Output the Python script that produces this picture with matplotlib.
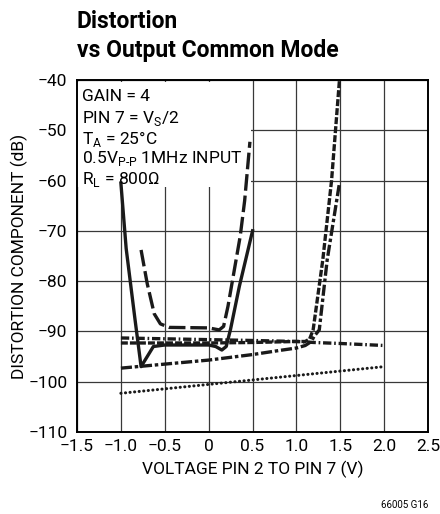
import numpy as np
import matplotlib
matplotlib.use('Agg')
import matplotlib.pyplot as plt
from matplotlib.patches import Rectangle

# Distortion vs output common mode

# solid U curve
x_solid = [-1.0, -0.94, -0.84, -0.77, -0.70, -0.63, -0.5, 0.0, 0.08, 0.15, 0.2, 0.25, 0.35, 0.5]
y_solid = [-60.5, -73.5, -87.5, -97.0, -95.0, -93.0, -92.7, -92.7, -93.0, -93.7, -93.0, -89.5, -81.0, -70.0]

# long dash U curve
x_ldash = [-0.77, -0.70, -0.62, -0.55, -0.45, 0.0, 0.12, 0.17, 0.22, 0.30, 0.36, 0.41, 0.47]
y_ldash = [-73.8, -80.5, -86.5, -88.5, -89.2, -89.3, -89.7, -89.0, -85.0, -77.0, -71.0, -64.0, -52.3]

# medium dash, flat then rising to -40
x_mdash = [-1.0, 0.0, 0.5, 1.0, 1.1, 1.15, 1.19, 1.30, 1.40, 1.49]
y_mdash = [-92.3, -92.3, -92.2, -92.0, -92.0, -91.5, -89.7, -75.8, -60.0, -40.0]

# dash-dot, flat out to 2V
x_dashdot = [-1.0, 0.5, 1.0, 1.2, 1.5, 2.0]
y_dashdot = [-91.3, -91.8, -92.0, -92.2, -92.4, -92.8]

# long-short dash, sloping then rising to -60
x_lsdash = [-1.0, 0.0, 0.5, 0.8, 1.0, 1.1, 1.17, 1.2, 1.26, 1.35, 1.49]
y_lsdash = [-97.3, -95.7, -94.6, -93.8, -93.3, -92.8, -92.0, -91.0, -89.7, -75.8, -60.5]

# dotted
x_dot = [-1.0, 2.0]
y_dot = [-102.3, -97.0]

xticks = [-1.5, -1.0, -0.5, 0, 0.5, 1.0, 1.5, 2.0, 2.5]
xtick_labels = ['\u22121.5', '\u22121.0', '\u22120.5', '0', '0.5', '1.0', '1.5', '2.0', '2.5']
yticks = [-110, -100, -90, -80, -70, -60, -50, -40]
ytick_labels = ['\u2212110', '\u2212100', '\u221290', '\u221280', '\u221270', '\u221260', '\u221250', '\u221240']

notes = ['GAIN = 4',
         r'PIN 7 = V$_\mathregular{S}$/2',
         r'T$_\mathregular{A}$ = 25' + '\u00b0C',
         r'0.5V$_\mathregular{P\text{-}P}$ 1MHz INPUT',
         r'R$_\mathregular{L}$ = 800' + '\u03a9']

plt.rcParams['font.family'] = ['Roboto', 'DejaVu Sans']
plt.rcParams['mathtext.fontset'] = 'custom'
plt.rcParams['mathtext.rm'] = 'Roboto'
plt.rcParams['lines.scale_dashes'] = False

fig = plt.figure(figsize=(4.4, 5.14), dpi=100)
ax = fig.add_axes([0.175, 0.1595, 0.798, 0.685])

ax.set_xlim(-1.5, 2.5)
ax.set_ylim(-110, -40)
ax.set_xticks(xticks)
ax.set_xticklabels(xtick_labels, fontsize=12.5)
ax.set_yticks(yticks)
ax.set_yticklabels(ytick_labels, fontsize=12.5)
ax.tick_params(length=0, pad=5)
ax.tick_params(axis='y', pad=7)
ax.grid(True, color='#383838', lw=0.9)
ax.set_axisbelow(True)
for s in ax.spines.values():
    s.set_linewidth(1.4)

# white box behind the conditions text
ax.add_patch(Rectangle((-1.5, -61.3), 1.98, 20.9, facecolor='white', edgecolor='none', zorder=1.5))

lc = '#1a1a1a'
ax.plot(x_dot, y_dot, color=lc, lw=2.2, dashes=(0.1, 3.2), dash_capstyle='round', zorder=3)
ax.plot(x_lsdash, y_lsdash, color=lc, lw=2.4, dashes=(8, 2, 2.5, 2), zorder=3)
ax.plot(x_dashdot, y_dashdot, color=lc, lw=2.4, dashes=(6, 2, 1.2, 2), zorder=3)
ax.plot(x_mdash, y_mdash, color=lc, lw=2.4, dashes=(5, 1.5), zorder=3)
ax.plot(x_ldash, y_ldash, color=lc, lw=2.4, dashes=(12, 3.5), zorder=3)
ax.plot(x_solid, y_solid, color=lc, lw=2.4, zorder=3)

for i, line in enumerate(notes):
    ax.text(0.015, 0.975 - i * 0.0575, line, transform=ax.transAxes, fontsize=12.5,
            va='top', ha='left', zorder=4)

ax.set_xlabel('VOLTAGE PIN 2 TO PIN 7 (V)', fontsize=12.5, labelpad=5)
ax.set_ylabel('DISTORTION COMPONENT (dB)', fontsize=12.5, labelpad=0)

fig.text(77 / 440, 1 - 28 / 514, 'Distortion', fontsize=16.5, fontweight='bold', ha='left', va='baseline')
fig.text(77 / 440, 1 - 57 / 514, 'vs Output Common Mode', fontsize=16.5, fontweight='bold', ha='left', va='baseline')
fig.text(428 / 440, 1 - 508 / 514, '66005 G16', fontsize=7, ha='right', va='baseline')

fig.savefig('out.png', dpi=100)
